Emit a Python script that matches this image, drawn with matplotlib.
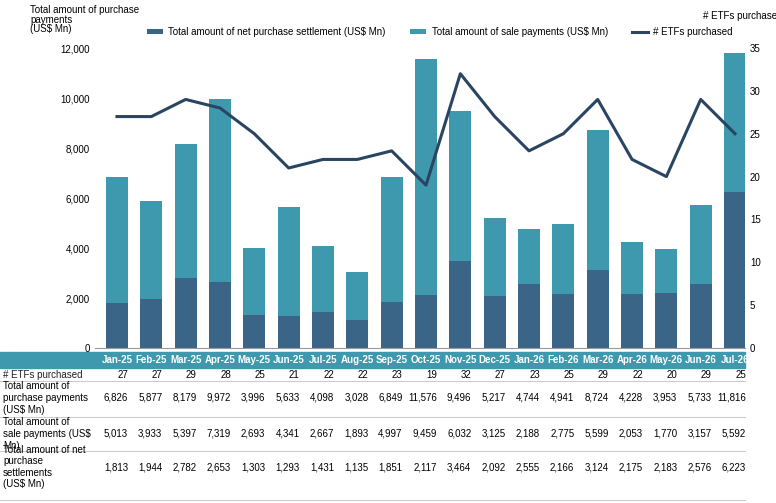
import matplotlib
matplotlib.use("Agg")
import matplotlib.pyplot as plt
from matplotlib.patches import Rectangle
from matplotlib.ticker import FuncFormatter

months = ["Jan-25","Feb-25","Mar-25","Apr-25","May-25","Jun-25","Jul-25","Aug-25","Sep-25","Oct-25",
          "Nov-25","Dec-25","Jan-26","Feb-26","Mar-26","Apr-26","May-26","Jun-26","Jul-26"]
etfs = [27,27,29,28,25,21,22,22,23,19,32,27,23,25,29,22,20,29,25]
purchase = [6826,5877,8179,9972,3996,5633,4098,3028,6849,11576,9496,5217,4744,4941,8724,4228,3953,5733,11816]
sale = [5013,3933,5397,7319,2693,4341,2667,1893,4997,9459,6032,3125,2188,2775,5599,2053,1770,3157,5592]
net = [1813,1944,2782,2653,1303,1293,1431,1135,1851,2117,3464,2092,2555,2166,3124,2175,2183,2576,6223]

C_NET = "#3a6587"
C_SALE = "#3e98ae"
C_LINE = "#2a4562"
C_HEAD = "#3e98ae"
plt.rcParams['font.family'] = ['Liberation Sans', 'DejaVu Sans']
FS = 7
W, H = 776, 503
fig = plt.figure(figsize=(W/100, H/100), dpi=100)
L, R, T, B = 95, 745, 48, 348
ax = fig.add_axes([L/W, 1-B/H, (R-L)/W, (B-T)/H])
x = list(range(len(months)))
xl = (-0.64, 18.29)
ax.bar(x, net, width=0.64, color=C_NET, label="Total amount of net purchase settlement (US$ Mn)", zorder=2)
ax.bar(x, sale, width=0.64, bottom=net, color=C_SALE, label="Total amount of sale payments (US$ Mn)", zorder=2)
ax.set_xlim(*xl)
ax.set_ylim(0, 12000)
ax.set_yticks(range(0, 12001, 2000))
ax.yaxis.set_major_formatter(FuncFormatter(lambda v, p: f"{int(v):,}"))
ax.set_xticks([])
for s in ["top", "left", "right"]:
    ax.spines[s].set_visible(False)
ax.spines["bottom"].set_color("#999999")
ax.tick_params(axis='y', length=0, labelsize=FS)
ax2 = ax.twinx()
ax2.plot(x, etfs, color=C_LINE, lw=2.2, label="# ETFs purchased", zorder=3)
ax2.set_ylim(0, 35)
ax2.set_yticks(range(0, 36, 5))
ax2.tick_params(axis='y', length=0, labelsize=FS)
for s in ["top", "left", "right", "bottom"]:
    ax2.spines[s].set_visible(False)
h1, l1 = ax.get_legend_handles_labels()
h2, l2 = ax2.get_legend_handles_labels()
fig.legend(h1 + h2, l1 + l2, loc="center", bbox_to_anchor=(440/W, 1-32/H), ncol=3,
           frameon=False, fontsize=FS, handlelength=1.6, handleheight=0.3, columnspacing=2.5, handletextpad=0.6)
fig.text(30/W, 1-5/H, "Total amount of purchase\npayments\n(US$ Mn)", fontsize=FS, va="top", ha="center" if False else "left", linespacing=0.95)
fig.text(703/W, 1-16/H, "# ETFs purchased", fontsize=FS, va="center", ha="left")

# table
ta = fig.add_axes([L/W, 0, (R-L)/W, 1-B/H])
ta.set_xlim(*xl); ta.set_ylim(H, B)
ta.axis("off")
fig.add_artist(Rectangle((0, 1-368/H), R/W, 16/H, transform=fig.transFigure, color=C_HEAD, zorder=0))
for i, m in enumerate(months):
    ta.text(i, 360, m, ha="center", va="center", fontsize=FS, color="white", fontweight="bold", zorder=5)
    ta.text(i+0.32, 375, f"{etfs[i]}", ha="right", va="center", fontsize=FS)
    ta.text(i+0.32, 398, f"{purchase[i]:,}", ha="right", va="center", fontsize=FS)
    ta.text(i+0.32, 434, f"{sale[i]:,}", ha="right", va="center", fontsize=FS)
    ta.text(i+0.32, 467, f"{net[i]:,}", ha="right", va="center", fontsize=FS)
fig.text(3/W, 1-375/H, "# ETFs purchased", fontsize=FS, va="center", color="#222222")
fig.text(3/W, 1-398/H, "Total amount of\npurchase payments\n(US$ Mn)", fontsize=FS, va="center")
fig.text(3/W, 1-434/H, "Total amount of\nsale payments (US$\nMn)", fontsize=FS, va="center")
fig.text(3/W, 1-467/H, "Total amount of net\npurchase\nsettlements\n(US$ Mn)", fontsize=FS, va="center")
for yy in [381, 417, 451, 500]:
    fig.add_artist(plt.Line2D([0, R/W], [1-yy/H, 1-yy/H], color="#cccccc", lw=0.8, transform=fig.transFigure))
fig.savefig("out.png", dpi=100)
